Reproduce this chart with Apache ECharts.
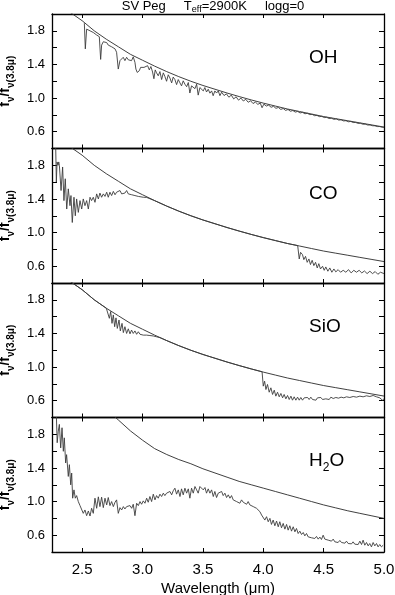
<!DOCTYPE html>
<html>
<head>
<meta charset="utf-8">
<script src="https://cdn.jsdelivr.net/npm/echarts@6/dist/echarts.min.js"></script>
<style>
html,body{margin:0;padding:0;background:#fff;}
#main{width:395px;height:595px;}
</style>
</head>
<body>
<div id="main"></div>
<script>
// SV Peg, Teff=2900K, logg=0 : f_nu / f_nu(3.8um) against wavelength (um)
// values

var xTicks = [2.5, 3.0, 3.5, 4.0, 4.5, 5.0];
var yLabels = ['0.6', '1.0', '1.4', '1.8'];
var panelNames = ['OH', 'CO', 'SiO', 'H2O'];

// continuum, panels OH / CO / SiO
var contWave = [2.30,2.40,2.50,2.60,2.70,2.80,2.90,3.00,3.10,3.20,3.30,3.40,3.50,3.60,3.70,3.80,3.90,4.00,4.10,4.20,4.30,4.40,4.50,4.60,4.70,4.80,4.90,5.00];
var contFlux = [2.16,2.02,1.92,1.80,1.70,1.61,1.52,1.45,1.38,1.315,1.255,1.20,1.15,1.105,1.06,1.018,0.978,0.94,0.905,0.87,0.84,0.81,0.78,0.755,0.73,0.705,0.68,0.655];

// continuum, panel H2O
var cont4Wave = [2.70,2.80,2.90,3.00,3.10,3.20,3.30,3.40,3.50,3.60,3.70,3.80,3.90,4.00,4.10,4.20,4.30,4.40,4.50,4.60,4.70,4.80,4.90,5.00];
var cont4Flux = [2.10,1.97,1.84,1.73,1.63,1.56,1.50,1.45,1.39,1.34,1.29,1.24,1.20,1.16,1.12,1.08,1.04,1.00,0.96,0.925,0.89,0.86,0.83,0.80];

// OH
var ohWave = [2.518,2.526,2.537,2.551,2.565,2.578,2.592,2.606,2.620,2.634,
  2.642,2.653,2.661,2.675,2.689,2.703,2.716,2.730,2.744,2.758,
  2.772,2.785,2.799,2.813,2.827,2.840,2.854,2.868,2.882,2.896,
  2.909,2.923,2.937,2.945,2.956,2.973,2.984,3.000,3.012,3.028,
  3.042,3.056,3.069,3.083,3.094,3.105,3.116,3.130,3.144,3.158,
  3.172,3.185,3.199,3.213,3.227,3.241,3.254,3.268,3.282,3.296,
  3.310,3.323,3.337,3.351,3.365,3.379,3.392,3.406,3.420,3.434,
  3.448,3.461,3.475,3.489,3.503,3.516,3.530,3.544,3.558,3.572,
  3.585,3.599,3.613,3.627,3.641,
  3.655,3.675,3.695,3.715,3.735,3.755,3.775,3.795,3.815,3.835,
  3.855,3.875,3.895,3.915,3.935,3.955,3.975,3.990,4.005,4.025,
  4.045,4.065,4.085,4.105,4.125,4.145,4.165,4.185,4.205,4.225,
  4.245,4.265,4.285,4.305,4.325,4.345,4.365,4.385,4.405,4.425,
  4.445,4.465,4.485,4.505,4.525,4.545,4.565,4.585,4.605,4.625,
  4.645,4.665,4.685,4.705,4.725,4.745,4.765,4.785,4.805,4.825,
  4.845,4.865,4.885,4.905,4.925,4.945,4.965,4.985,5.000];
var ohFlux = [1.89,1.585,1.82,1.84,1.80,1.82,1.78,1.79,1.75,1.76,
  1.73,1.46,1.63,1.67,1.65,1.66,1.63,1.65,1.61,1.625,
  1.585,1.545,1.345,1.445,1.465,1.485,1.445,1.485,1.455,1.475,
  1.445,1.49,1.425,1.345,1.305,1.325,1.365,1.345,1.365,1.36,
  1.385,1.335,1.375,1.31,1.23,1.335,1.30,1.265,1.315,1.22,
  1.30,1.257,1.20,1.277,1.238,1.18,1.25,1.22,1.16,1.22,
  1.18,1.145,1.205,1.165,1.135,1.185,1.06,1.145,1.145,1.112,
  1.165,1.035,1.125,1.105,1.085,1.125,1.072,1.105,1.058,1.085,
  1.028,1.085,1.06,1.085,1.028,
  1.07,1.03,1.05,1.01,1.035,0.99,1.015,0.975,1.0,0.965,
  0.985,0.95,0.968,0.935,0.952,0.925,0.94,0.885,0.928,0.905,
  0.916,0.89,0.902,0.878,0.888,0.865,0.876,0.853,0.864,0.843,
  0.852,0.833,0.841,0.823,0.83,0.813,0.819,0.803,0.806,0.79,
  0.794,0.779,0.782,0.768,0.771,0.757,0.76,0.747,0.752,0.738,
  0.741,0.728,0.731,0.718,0.722,0.709,0.71,0.699,0.70,0.689,
  0.69,0.679,0.68,0.671,0.67,0.661,0.661,0.653,0.652];

// CO
var coWave = [2.280,2.286,2.292,2.300,2.306,2.311,
  2.325,2.338,2.349,2.360,2.372,2.385,2.399,2.407,2.418,2.432,
  2.443,2.454,2.468,2.482,2.496,2.509,2.523,2.537,2.551,2.565,
  2.578,2.592,2.606,2.620,2.634,2.647,2.661,2.675,2.689,2.703,
  2.716,2.730,2.744,2.758,2.772,2.785,2.799,2.813,2.827,2.841,
  2.854,2.868,2.882,2.896,2.910,2.923,2.937,2.951,2.965,2.979,
  3.006,3.034,3.050,
  3.100,3.200,3.300,3.400,3.500,3.600,3.700,3.800,3.900,4.000,4.100,4.200,4.285,
  4.298,4.309,4.325,4.336,4.350,4.364,4.378,4.391,4.405,4.419,
  4.433,4.447,4.460,4.474,4.491,4.505,4.518,4.535,4.551,4.568,
  4.585,4.601,4.620,4.640,4.662,4.684,4.706,4.728,4.750,4.772,
  4.794,4.816,4.838,4.860,4.883,4.905,4.927,4.949,4.971,5.000];
var coFlux = [2.06,1.60,1.84,1.80,1.84,1.80,
  1.50,1.78,1.38,1.64,1.28,1.52,1.32,1.44,1.12,1.42,
  1.20,1.40,1.24,1.38,1.28,1.40,1.32,1.38,1.28,1.42,
  1.38,1.42,1.36,1.46,1.40,1.47,1.42,1.46,1.43,1.48,
  1.42,1.48,1.44,1.49,1.45,1.48,1.46,1.50,1.46,1.48,
  1.47,1.50,1.46,1.48,1.45,1.46,1.44,1.435,1.43,1.425,
  1.42,1.418,1.415,
  1.38,1.315,1.255,1.20,1.15,1.105,1.06,1.018,0.978,0.94,0.905,0.87,0.845,
  0.686,0.765,0.737,0.678,0.717,0.646,0.686,0.619,0.67,0.607,
  0.646,0.579,0.63,0.567,0.599,0.551,0.591,0.54,0.579,0.528,
  0.567,0.532,0.559,0.528,0.551,0.528,0.559,0.52,0.551,0.528,
  0.551,0.52,0.543,0.512,0.54,0.512,0.536,0.504,0.528,0.512];

// SiO
var sioWave = [2.30,2.40,2.50,2.60,2.70,
  2.716,2.725,2.736,2.747,2.758,2.769,2.780,2.791,2.805,2.816,
  2.830,2.841,2.854,2.868,2.882,2.896,2.909,2.923,2.937,2.951,
  2.965,2.979,2.992,3.006,3.020,3.034,3.061,3.089,3.116,3.144,
  3.200,3.300,3.400,3.500,3.600,3.700,3.800,3.900,3.990,
  4.000,4.011,4.022,4.035,4.049,4.063,4.077,4.091,4.104,4.118,
  4.132,4.146,4.160,4.173,4.187,4.201,4.215,4.229,4.242,4.256,
  4.270,4.284,4.298,4.311,4.325,4.339,4.353,4.367,4.380,4.394,
  4.408,4.422,4.436,4.449,4.463,4.477,4.491,4.505,4.518,4.532,
  4.546,4.560,4.579,4.601,4.623,4.645,4.667,4.689,4.717,4.745,
  4.772,4.800,4.827,4.855,4.883,4.910,4.938,4.965,4.987,5.000];
var sioFlux = [2.16,2.02,1.92,1.80,1.70,
  1.684,1.58,1.66,1.52,1.62,1.48,1.585,1.46,1.56,1.43,
  1.52,1.41,1.48,1.40,1.455,1.395,1.44,1.40,1.43,1.39,
  1.42,1.39,1.41,1.38,1.40,1.38,1.375,1.37,1.36,1.35,
  1.315,1.255,1.20,1.15,1.105,1.06,1.018,0.978,0.944,
  0.773,0.832,0.733,0.793,0.701,0.753,0.674,0.725,0.654,0.701,
  0.646,0.686,0.634,0.674,0.622,0.662,0.614,0.654,0.606,0.646,
  0.606,0.642,0.606,0.638,0.606,0.634,0.614,0.638,0.614,0.642,
  0.614,0.634,0.606,0.634,0.614,0.638,0.614,0.630,0.622,0.630,
  0.614,0.642,0.626,0.638,0.630,0.642,0.634,0.646,0.638,0.650,
  0.642,0.654,0.646,0.658,0.650,0.662,0.646,0.634,0.606,0.622];

// H2O
var h2oWave = [2.285,2.293,
  2.302,2.311,2.322,2.333,2.344,2.352,2.363,2.371,
  2.385,2.394,2.405,2.413,2.421,2.432,2.443,2.454,
  2.468,2.482,2.496,2.509,2.523,2.537,2.551,2.565,2.578,2.592,
  2.606,2.620,2.634,2.647,2.661,2.675,2.689,2.703,2.716,2.730,
  2.744,2.758,2.772,2.785,2.799,2.813,2.827,2.841,2.854,2.868,
  2.882,2.896,2.910,2.923,2.937,2.951,2.965,2.979,2.992,3.006,
  3.020,3.034,3.047,3.061,3.075,3.089,3.103,3.116,3.130,3.144,
  3.158,3.172,3.185,3.199,3.213,3.227,3.241,3.254,3.268,3.282,
  3.296,3.310,3.323,3.337,3.351,3.365,3.379,3.392,3.406,3.420,
  3.434,3.448,3.461,3.475,3.489,3.503,3.517,3.530,3.544,
  3.558,3.572,3.586,3.599,3.613,3.627,3.641,3.655,3.668,3.682,
  3.696,3.710,3.724,3.737,3.751,3.765,3.779,3.793,3.806,3.820,
  3.834,3.848,3.862,3.875,3.889,3.903,3.917,3.930,3.944,3.958,
  3.972,3.986,4.000,4.013,4.027,4.041,4.055,4.068,4.082,4.096,
  4.110,4.124,4.137,4.151,4.165,4.179,4.193,4.206,4.220,4.234,
  4.248,4.262,4.275,4.289,4.303,4.317,4.331,4.344,4.358,4.372,
  4.386,4.400,4.413,4.427,4.441,4.455,4.469,4.482,4.496,4.510,
  4.524,4.538,4.551,4.565,4.579,4.593,4.607,4.620,4.634,4.648,
  4.662,4.676,4.689,4.703,4.717,4.731,4.744,4.758,4.772,4.786,
  4.800,4.814,4.827,4.841,4.855,4.869,4.882,4.896,4.910,4.924,
  4.938,4.951,4.965,4.979,4.993];
var h2oFlux = [2.08,1.70,
  1.838,1.918,1.638,1.878,1.598,1.758,1.459,1.558,
  1.299,1.439,1.199,1.339,1.04,1.139,1.04,1.071,
  0.999,0.952,0.968,0.86,0.90,0.832,0.888,0.828,0.92,0.86,
  1.04,0.92,1.056,0.94,1.052,0.928,1.04,0.96,1.048,0.952,
  1.0,0.94,0.992,1.02,0.86,0.928,0.90,0.94,0.912,0.94,
  0.92,0.952,0.92,0.968,0.832,0.98,0.952,1.0,0.968,1.008,
  0.98,1.04,0.992,1.06,1.0,1.088,1.02,1.071,1.04,1.088,
  1.06,1.10,1.071,1.10,1.08,1.12,1.08,1.128,1.159,1.088,
  1.139,1.06,1.151,1.08,1.159,1.10,1.151,1.04,1.159,1.10,
  1.179,1.139,1.10,1.179,1.199,1.139,1.167,1.10,1.151,
  1.10,1.139,1.06,1.12,1.048,1.10,1.08,1.12,1.071,1.10,
  1.048,1.08,1.04,1.071,1.02,1.04,1.0,1.02,0.98,1.02,
  0.992,1.008,0.968,1.0,0.96,0.98,0.94,0.96,0.92,0.94,
  0.88,0.84,0.86,0.78,0.82,0.76,0.80,0.728,0.78,0.712,
  0.768,0.70,0.76,0.688,0.74,0.672,0.728,0.66,0.712,0.648,
  0.70,0.64,0.68,0.62,0.648,0.608,0.632,0.592,0.62,0.58,
  0.60,0.569,0.592,0.561,0.585,0.553,0.577,0.549,0.60,0.553,
  0.569,0.541,0.561,0.529,0.553,0.521,0.541,0.513,0.537,0.513,
  0.529,0.505,0.529,0.501,0.521,0.497,0.521,0.493,0.513,0.489,
  0.529,0.489,0.541,0.481,0.513,0.473,0.501,0.461,0.513,0.473,
  0.501,0.461,0.489,0.461,0.481];

function pairs(w, f) {
  var out = [];
  var n = Math.min(w.length, f.length);
  for (var i = 0; i < n; i++) out.push([w[i], f[i]]);
  return out;
}

var spectra = [pairs(ohWave, ohFlux), pairs(coWave, coFlux), pairs(sioWave, sioFlux), pairs(h2oWave, h2oFlux)];
var continua = [pairs(contWave, contFlux), pairs(contWave, contFlux), pairs(contWave, contFlux), pairs(cont4Wave, cont4Flux)];

var FONT = 'Liberation Sans';
var tops = [14, 148.5, 283, 417.5];
var panelH = 134.5;
var labelTops = [48.5, 184, 317.5, 451.5];

var grids = [], xAxes = [], yAxes = [], series = [], titles = [];

function yFmt(v) {
  var s = (Math.round(v * 10) / 10).toFixed(1);
  return yLabels.indexOf(s) >= 0 ? s : '';
}

for (var i = 0; i < 4; i++) {
  grids.push({ left: 52, right: 11, top: tops[i], height: panelH, containLabel: false, outerBoundsMode: 'none' });
  var line = { show: true, onZero: false, lineStyle: { color: '#000', width: 1.3 } };
  var last = (i === 3);
  // bottom / top x axes
  xAxes.push({
    gridIndex: i, type: 'value', min: 2.25, max: 5.0, position: 'bottom',
    axisLine: line,
    axisTick: { inside: true, length: 4, customValues: xTicks, lineStyle: { color: '#000' } },
    axisLabel: { show: last, customValues: xTicks, formatter: function (v) { return v.toFixed(1); },
      color: '#000', fontFamily: FONT, fontSize: 15, margin: 10 },
    splitLine: { show: false },
    name: last ? 'Wavelength (\u03bcm)' : '', nameLocation: 'middle', nameGap: 29,
    nameTextStyle: { color: '#000', fontFamily: FONT, fontSize: 15 }
  });
  xAxes.push({
    gridIndex: i, type: 'value', min: 2.25, max: 5.0, position: 'top',
    axisLine: line,
    axisTick: { inside: true, length: 4, customValues: xTicks, lineStyle: { color: '#000' } },
    axisLabel: { show: false },
    splitLine: { show: false }
  });
  // left / right y axes
  yAxes.push({
    gridIndex: i, type: 'value', min: 0.4, max: 2.0, interval: 0.2, position: 'left',
    axisLine: line,
    axisTick: { inside: true, length: 5, lineStyle: { color: '#000' } },
    axisLabel: { formatter: yFmt, color: '#000', fontFamily: FONT, fontSize: 13, margin: 7 },
    splitLine: { show: false },
    name: '{m|f}{s|\u03bd}{m|/f}{s|\u03bd(3.8\u03bc)}',
    nameLocation: 'middle', nameGap: 31, nameRotate: 90,
    nameTextStyle: {
      color: '#000', fontFamily: FONT,
      rich: {
        m: { fontSize: 14, fontWeight: 'bold', fontFamily: FONT, lineHeight: 18, verticalAlign: 'top' },
        s: { fontSize: 10, fontWeight: 'bold', fontFamily: FONT, lineHeight: 10, verticalAlign: 'bottom' }
      }
    }
  });
  yAxes.push({
    gridIndex: i, type: 'value', min: 0.4, max: 2.0, interval: 0.2, position: 'right',
    axisLine: line,
    axisTick: { inside: true, length: 5, lineStyle: { color: '#000' } },
    axisLabel: { show: false },
    splitLine: { show: false }
  });

  series.push({
    type: 'line', xAxisIndex: 2 * i, yAxisIndex: 2 * i, data: continua[i],
    symbol: 'none', silent: true, lineStyle: { color: '#2a2a2a', width: 0.9 }
  });
  series.push({
    type: 'line', xAxisIndex: 2 * i, yAxisIndex: 2 * i, data: spectra[i],
    symbol: 'none', silent: true, lineStyle: { color: '#3c3c3c', width: 0.9 }
  });

  var txt = panelNames[i] === 'H2O' ? '{a|H}{b|2}{a|O}' : '{a|' + panelNames[i] + '}';
  titles.push({
    text: txt, left: 309, top: labelTops[i], padding: 0,
    textStyle: {
      fontWeight: 'normal', fontSize: 18, lineHeight: 22,
      rich: {
        a: { fontSize: 19, fontWeight: 'normal', fontFamily: FONT, color: '#000', lineHeight: 22, verticalAlign: 'top' },
        b: { fontSize: 12, fontWeight: 'normal', fontFamily: FONT, color: '#000', lineHeight: 12, verticalAlign: 'bottom' }
      }
    }
  });
}

titles.push({
  text: '{n|SV Peg     T}{s|eff}{n|=2900K     logg=0}',
  left: 213, top: 0, textAlign: 'center', padding: 0,
  textStyle: {
    fontWeight: 'normal', fontSize: 13, lineHeight: 14,
    rich: {
      n: { fontSize: 13, fontWeight: 'normal', fontFamily: FONT, color: '#000', lineHeight: 14, verticalAlign: 'top' },
      s: { fontSize: 9, fontWeight: 'normal', fontFamily: FONT, color: '#000', lineHeight: 9, verticalAlign: 'bottom' }
    }
  }
});

var myChart = echarts.init(document.getElementById('main'), null, { renderer: 'canvas' });
myChart.setOption({
  backgroundColor: '#fff',
  animation: false,
  title: titles,
  grid: grids,
  xAxis: xAxes,
  yAxis: yAxes,
  series: series
});
</script>
</body>
</html>
